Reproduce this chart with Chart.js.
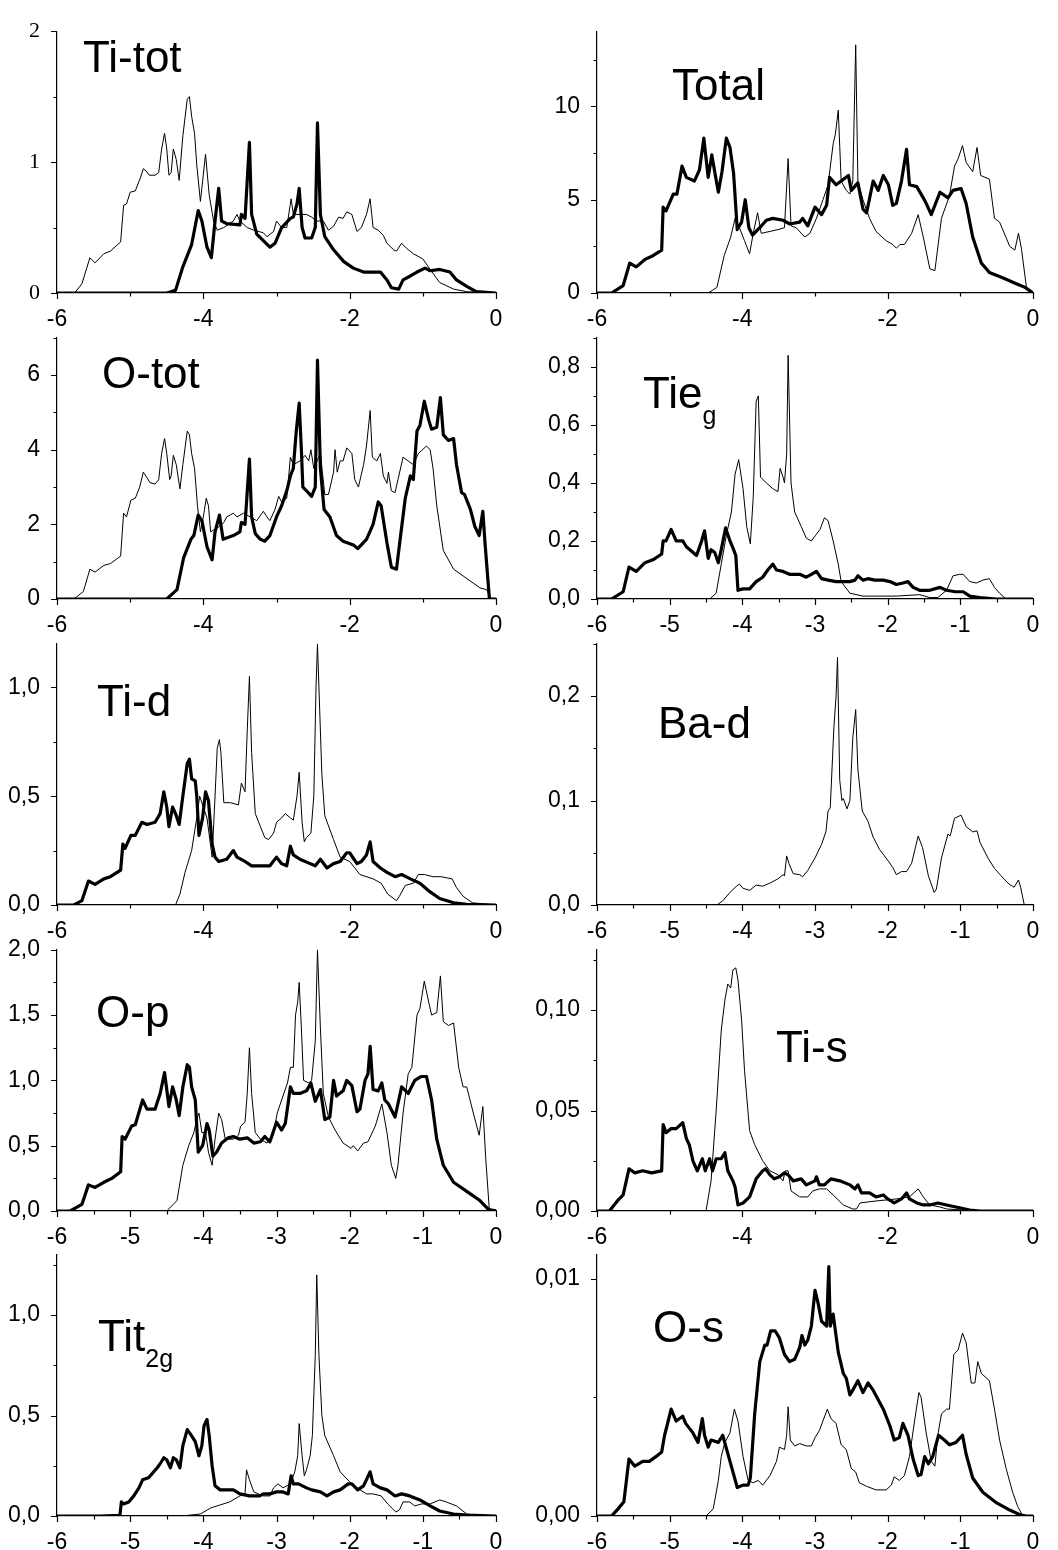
<!DOCTYPE html>
<html>
<head>
<meta charset="utf-8">
<script src="https://cdn.jsdelivr.net/npm/chart.js@4.4.1/dist/chart.umd.min.js"></script>
<style>
  html, body { margin: 0; padding: 0; background: #fff; }
  #page { position: relative; width: 1058px; height: 1550px; overflow: hidden; }
  #page canvas { position: absolute; }
  .lbl { position: absolute; font-family: "Liberation Sans", Arial, sans-serif; font-size: 44px; line-height: 44px; color: #000; white-space: nowrap; }
  .lbl sub { font-size: 25px; line-height: 0; vertical-align: baseline; position: relative; top: 16px; }
</style>
</head>
<body>
<div id="page"></div>
<script>
// energy (eV) vs DOS; thin = one calculation, thick = the other
const tiTotThin = [[-6,0],[-5.76,0],[-5.66,0.07],[-5.55,0.27],[-5.48,0.23],[-5.36,0.3],[-5.27,0.32],[-5.13,0.39],[-5.09,0.67],[-5.05,0.68],[-5.0,0.77],[-4.93,0.78],[-4.86,0.88],[-4.82,0.95],[-4.78,0.93],[-4.74,0.9],[-4.66,0.9],[-4.61,0.92],[-4.57,1.1],[-4.53,1.22],[-4.5,1.1],[-4.47,0.9],[-4.44,0.92],[-4.41,1.1],[-4.37,1.02],[-4.33,0.86],[-4.28,1.2],[-4.22,1.48],[-4.19,1.5],[-4.16,1.35],[-4.12,1.22],[-4.09,0.98],[-4.04,0.7],[-3.97,1.06],[-3.92,0.75],[-3.86,0.55],[-3.81,0.48],[-3.72,0.5],[-3.59,0.55],[-3.54,0.6],[-3.5,0.55],[-3.4,0.5],[-3.31,0.48],[-3.18,0.46],[-3.13,0.43],[-3.04,0.47],[-3.0,0.55],[-2.93,0.5],[-2.86,0.5],[-2.8,0.72],[-2.77,0.6],[-2.68,0.6],[-2.59,0.6],[-2.52,0.58],[-2.45,0.55],[-2.36,0.55],[-2.29,0.48],[-2.22,0.51],[-2.15,0.58],[-2.09,0.57],[-2.04,0.62],[-1.97,0.6],[-1.9,0.47],[-1.84,0.5],[-1.77,0.6],[-1.72,0.72],[-1.68,0.5],[-1.61,0.48],[-1.54,0.44],[-1.49,0.38],[-1.4,0.33],[-1.36,0.32],[-1.29,0.38],[-1.22,0.34],[-1.13,0.3],[-1.0,0.26],[-0.9,0.18],[-0.77,0.08],[-0.58,0.03],[-0.4,0.01],[0,0]];
const tiTotThick = [[-6,0],[-4.5,0],[-4.38,0.02],[-4.28,0.2],[-4.16,0.37],[-4.07,0.63],[-4.02,0.55],[-3.95,0.35],[-3.89,0.27],[-3.84,0.55],[-3.79,0.8],[-3.75,0.55],[-3.68,0.53],[-3.5,0.52],[-3.48,0.6],[-3.43,0.57],[-3.37,1.15],[-3.34,0.6],[-3.27,0.45],[-3.18,0.4],[-3.09,0.35],[-3.02,0.38],[-2.93,0.5],[-2.81,0.57],[-2.77,0.58],[-2.72,0.68],[-2.69,0.8],[-2.65,0.5],[-2.61,0.42],[-2.52,0.42],[-2.47,0.5],[-2.44,1.3],[-2.4,0.6],[-2.34,0.43],[-2.22,0.33],[-2.08,0.24],[-1.95,0.19],[-1.81,0.16],[-1.58,0.16],[-1.49,0.1],[-1.43,0.04],[-1.33,0.03],[-1.27,0.1],[-1.17,0.13],[-1.08,0.16],[-0.97,0.19],[-0.9,0.17],[-0.77,0.18],[-0.63,0.16],[-0.54,0.1],[-0.4,0.05],[-0.27,0.01],[0,0]];

const totalThin = [[-6,0],[-4.47,0],[-4.35,0.3],[-4.25,2.0],[-4.16,3.0],[-4.1,4.0],[-4.04,3.5],[-3.97,2.8],[-3.9,2.1],[-3.85,3.2],[-3.79,4.3],[-3.74,3.2],[-3.62,3.3],[-3.51,3.4],[-3.42,3.5],[-3.37,7.2],[-3.33,3.6],[-3.26,3.5],[-3.14,3.0],[-3.07,3.2],[-2.98,4.0],[-2.89,5.0],[-2.82,5.8],[-2.75,8.0],[-2.72,8.5],[-2.68,9.8],[-2.64,6.0],[-2.57,5.5],[-2.52,5.3],[-2.48,6.0],[-2.44,13.3],[-2.41,6.0],[-2.34,5.0],[-2.25,4.0],[-2.16,3.3],[-2.02,2.8],[-1.93,2.6],[-1.88,2.4],[-1.83,2.6],[-1.77,2.6],[-1.67,3.2],[-1.58,4.2],[-1.51,3.0],[-1.42,1.3],[-1.35,1.2],[-1.26,4.0],[-1.15,5.2],[-1.08,6.8],[-1.03,7.2],[-0.97,7.9],[-0.92,7.0],[-0.83,6.5],[-0.77,7.8],[-0.72,6.3],[-0.6,6.1],[-0.53,4.0],[-0.46,3.8],[-0.32,2.5],[-0.25,2.3],[-0.2,3.2],[-0.16,2.4],[-0.09,0.3],[0,0]];
const totalThick = [[-6,0],[-5.8,0],[-5.64,0.4],[-5.55,1.6],[-5.46,1.4],[-5.34,1.8],[-5.23,2.0],[-5.11,2.3],[-5.09,4.6],[-5.05,4.4],[-4.95,5.3],[-4.9,5.3],[-4.83,6.8],[-4.77,6.2],[-4.66,6.0],[-4.59,6.6],[-4.53,8.3],[-4.47,6.2],[-4.42,7.4],[-4.38,6.5],[-4.33,5.4],[-4.28,6.5],[-4.22,8.3],[-4.17,7.8],[-4.12,6.4],[-4.07,3.4],[-4.01,3.8],[-3.96,5.0],[-3.91,3.5],[-3.86,3.1],[-3.76,3.5],[-3.67,3.9],[-3.58,4.0],[-3.44,3.9],[-3.35,3.7],[-3.21,3.8],[-3.17,4.0],[-3.1,3.6],[-3.0,4.6],[-2.91,4.2],[-2.84,4.7],[-2.8,6.2],[-2.71,5.8],[-2.64,6.0],[-2.54,6.3],[-2.5,5.5],[-2.41,5.9],[-2.34,4.5],[-2.29,4.3],[-2.2,6.0],[-2.13,5.5],[-2.06,6.3],[-1.99,5.8],[-1.93,4.7],[-1.88,4.8],[-1.81,6.0],[-1.74,7.7],[-1.7,5.8],[-1.6,5.7],[-1.51,5.1],[-1.47,4.8],[-1.4,4.2],[-1.28,5.4],[-1.17,5.1],[-1.1,5.5],[-0.99,5.6],[-0.92,4.8],[-0.83,3.0],[-0.71,1.6],[-0.6,1.1],[-0.41,0.8],[-0.23,0.5],[-0.11,0.3],[0,0]];

const oTotThin = [[-6,0],[-5.77,0],[-5.64,0.2],[-5.55,0.8],[-5.48,0.72],[-5.36,0.9],[-5.27,0.95],[-5.13,1.15],[-5.09,2.3],[-5.05,2.2],[-4.99,2.65],[-4.93,2.7],[-4.87,3.0],[-4.82,3.4],[-4.77,3.25],[-4.73,3.12],[-4.66,3.08],[-4.61,3.2],[-4.57,3.9],[-4.53,4.3],[-4.5,3.9],[-4.46,3.2],[-4.44,3.3],[-4.41,3.85],[-4.37,3.6],[-4.32,2.95],[-4.28,3.6],[-4.22,4.5],[-4.19,4.4],[-4.16,3.9],[-4.12,3.5],[-4.08,2.5],[-4.04,1.8],[-4.0,2.2],[-3.96,2.7],[-3.93,2.5],[-3.9,1.8],[-3.86,1.85],[-3.81,1.9],[-3.72,2.05],[-3.68,2.2],[-3.59,2.3],[-3.54,2.2],[-3.45,2.3],[-3.36,2.2],[-3.27,2.1],[-3.18,2.35],[-3.13,2.2],[-3.09,2.1],[-3.02,2.4],[-2.97,2.75],[-2.93,2.6],[-2.86,2.7],[-2.81,3.8],[-2.77,3.6],[-2.68,3.7],[-2.61,3.85],[-2.56,3.7],[-2.53,4.0],[-2.49,3.5],[-2.4,3.9],[-2.34,2.8],[-2.29,2.8],[-2.22,3.4],[-2.2,4.0],[-2.17,3.4],[-2.13,3.7],[-2.09,3.7],[-2.04,4.05],[-1.97,3.9],[-1.93,3.2],[-1.88,3.0],[-1.81,3.6],[-1.77,4.1],[-1.72,5.05],[-1.69,3.8],[-1.63,3.7],[-1.58,3.9],[-1.54,3.3],[-1.49,3.1],[-1.47,3.4],[-1.43,2.9],[-1.38,2.85],[-1.34,3.2],[-1.27,3.8],[-1.2,3.7],[-1.13,3.6],[-1.06,3.9],[-0.95,4.1],[-0.9,4.0],[-0.86,3.5],[-0.81,2.5],[-0.72,1.3],[-0.58,0.8],[-0.4,0.55],[-0.22,0.3],[-0.13,0.25],[-0.06,0],[0,0]];
const oTotThick = [[-6,0],[-4.5,0],[-4.36,0.25],[-4.27,1.1],[-4.17,1.6],[-4.13,1.7],[-4.07,2.25],[-4.02,2.1],[-3.95,1.4],[-3.88,1.05],[-3.84,1.8],[-3.78,2.25],[-3.73,1.6],[-3.59,1.7],[-3.5,1.8],[-3.48,2.05],[-3.43,2.0],[-3.37,3.75],[-3.34,2.2],[-3.29,1.75],[-3.22,1.6],[-3.16,1.55],[-3.09,1.7],[-3.0,2.2],[-2.93,2.5],[-2.86,2.9],[-2.81,3.3],[-2.77,3.5],[-2.73,4.5],[-2.69,5.25],[-2.66,4.0],[-2.64,3.0],[-2.59,2.9],[-2.52,2.75],[-2.47,3.0],[-2.44,6.4],[-2.4,3.5],[-2.35,2.4],[-2.27,2.2],[-2.18,1.7],[-2.09,1.55],[-1.95,1.45],[-1.89,1.35],[-1.77,1.6],[-1.68,2.0],[-1.61,2.6],[-1.57,2.5],[-1.49,1.5],[-1.43,0.85],[-1.36,0.8],[-1.31,1.6],[-1.24,2.7],[-1.17,3.3],[-1.13,3.2],[-1.08,4.5],[-1.04,4.65],[-0.98,5.3],[-0.92,4.8],[-0.88,4.55],[-0.81,4.6],[-0.76,5.4],[-0.72,4.4],[-0.65,4.25],[-0.58,4.3],[-0.54,3.6],[-0.47,2.85],[-0.43,2.8],[-0.35,2.4],[-0.29,1.95],[-0.23,1.7],[-0.18,2.35],[-0.15,1.5],[-0.09,0],[0,0]];

const tiEgThin = [[-6,0],[-4.45,0],[-4.36,0.02],[-4.29,0.12],[-4.22,0.22],[-4.15,0.3],[-4.1,0.43],[-4.05,0.48],[-3.99,0.38],[-3.94,0.25],[-3.89,0.19],[-3.85,0.35],[-3.81,0.68],[-3.78,0.7],[-3.75,0.42],[-3.67,0.4],[-3.58,0.38],[-3.51,0.37],[-3.48,0.45],[-3.44,0.42],[-3.42,0.4],[-3.39,0.5],[-3.37,0.84],[-3.33,0.4],[-3.28,0.3],[-3.19,0.25],[-3.12,0.21],[-3.05,0.2],[-2.99,0.22],[-2.93,0.24],[-2.87,0.28],[-2.82,0.27],[-2.75,0.2],[-2.68,0.12],[-2.64,0.06],[-2.52,0.02],[-2.34,0.01],[-1.88,0.01],[-1.56,0.015],[-1.42,0.005],[-1.31,0.005],[-1.19,0.03],[-1.1,0.08],[-1.01,0.085],[-0.96,0.085],[-0.87,0.06],[-0.78,0.055],[-0.69,0.065],[-0.6,0.07],[-0.53,0.04],[-0.46,0.02],[-0.37,0],[0,0]];
const tiEgThick = [[-6,0],[-5.8,0],[-5.64,0.025],[-5.56,0.11],[-5.46,0.095],[-5.34,0.125],[-5.23,0.135],[-5.11,0.155],[-5.09,0.2],[-5.05,0.2],[-4.98,0.24],[-4.91,0.2],[-4.82,0.2],[-4.77,0.18],[-4.63,0.15],[-4.56,0.2],[-4.52,0.235],[-4.47,0.14],[-4.43,0.17],[-4.38,0.16],[-4.33,0.125],[-4.29,0.17],[-4.23,0.245],[-4.17,0.2],[-4.12,0.17],[-4.09,0.15],[-4.06,0.03],[-3.99,0.035],[-3.9,0.035],[-3.81,0.06],[-3.72,0.075],[-3.65,0.1],[-3.58,0.12],[-3.53,0.1],[-3.44,0.095],[-3.35,0.085],[-3.21,0.085],[-3.12,0.075],[-3.05,0.085],[-2.98,0.095],[-2.91,0.07],[-2.82,0.065],[-2.71,0.06],[-2.52,0.06],[-2.45,0.065],[-2.41,0.08],[-2.34,0.065],[-2.27,0.07],[-2.18,0.065],[-2.06,0.065],[-1.97,0.06],[-1.88,0.05],[-1.79,0.055],[-1.72,0.06],[-1.65,0.04],[-1.56,0.03],[-1.42,0.03],[-1.28,0.04],[-1.19,0.03],[-1.07,0.025],[-0.96,0.025],[-0.87,0.01],[-0.73,0.005],[-0.5,0],[0,0]];

const tiDThin = [[-6,0],[-4.38,0],[-4.32,0.05],[-4.25,0.15],[-4.16,0.25],[-4.09,0.4],[-4.05,0.5],[-4.0,0.45],[-3.95,0.4],[-3.88,0.22],[-3.84,0.5],[-3.81,0.72],[-3.78,0.76],[-3.76,0.7],[-3.72,0.47],[-3.63,0.47],[-3.52,0.46],[-3.48,0.56],[-3.43,0.52],[-3.4,0.8],[-3.37,1.05],[-3.34,0.7],[-3.29,0.42],[-3.22,0.36],[-3.16,0.31],[-3.11,0.3],[-3.04,0.33],[-3.0,0.38],[-2.93,0.4],[-2.88,0.42],[-2.81,0.4],[-2.77,0.39],[-2.72,0.5],[-2.69,0.61],[-2.65,0.38],[-2.62,0.29],[-2.59,0.31],[-2.53,0.33],[-2.49,0.5],[-2.46,1.0],[-2.44,1.2],[-2.41,0.9],[-2.38,0.6],[-2.34,0.41],[-2.22,0.3],[-2.13,0.22],[-2.0,0.2],[-1.86,0.14],[-1.68,0.12],[-1.57,0.1],[-1.48,0.05],[-1.36,0.02],[-1.32,0.04],[-1.24,0.09],[-1.13,0.1],[-1.06,0.14],[-0.98,0.14],[-0.86,0.13],[-0.75,0.13],[-0.6,0.12],[-0.54,0.08],[-0.45,0.04],[-0.32,0.01],[0,0]];
const tiDThick = [[-6,0],[-5.77,0],[-5.66,0.02],[-5.57,0.11],[-5.48,0.095],[-5.36,0.12],[-5.27,0.13],[-5.13,0.16],[-5.1,0.28],[-5.07,0.26],[-4.99,0.32],[-4.93,0.32],[-4.84,0.38],[-4.77,0.37],[-4.66,0.38],[-4.59,0.42],[-4.54,0.52],[-4.5,0.45],[-4.47,0.36],[-4.42,0.45],[-4.38,0.42],[-4.33,0.37],[-4.28,0.5],[-4.22,0.65],[-4.19,0.67],[-4.16,0.58],[-4.11,0.57],[-4.09,0.5],[-4.06,0.32],[-4.01,0.4],[-3.97,0.52],[-3.93,0.48],[-3.88,0.28],[-3.84,0.22],[-3.79,0.2],[-3.68,0.21],[-3.59,0.25],[-3.54,0.22],[-3.43,0.2],[-3.34,0.18],[-3.18,0.18],[-3.09,0.18],[-3.0,0.22],[-2.93,0.19],[-2.86,0.18],[-2.81,0.27],[-2.77,0.23],[-2.68,0.21],[-2.54,0.19],[-2.47,0.18],[-2.4,0.21],[-2.31,0.17],[-2.22,0.19],[-2.13,0.2],[-2.04,0.24],[-2.0,0.24],[-1.9,0.19],[-1.84,0.2],[-1.77,0.23],[-1.72,0.29],[-1.68,0.2],[-1.58,0.17],[-1.49,0.15],[-1.38,0.13],[-1.29,0.14],[-1.17,0.12],[-1.04,0.1],[-0.9,0.06],[-0.77,0.03],[-0.58,0.01],[-0.4,0.003],[0,0]];

const baDThin = [[-6,0],[-4.35,0],[-4.27,0.004],[-4.17,0.012],[-4.08,0.018],[-4.04,0.02],[-3.99,0.016],[-3.9,0.014],[-3.81,0.019],[-3.72,0.018],[-3.62,0.021],[-3.51,0.025],[-3.44,0.029],[-3.42,0.028],[-3.39,0.047],[-3.36,0.04],[-3.3,0.03],[-3.21,0.029],[-3.17,0.027],[-3.1,0.033],[-3.0,0.045],[-2.91,0.058],[-2.85,0.07],[-2.82,0.09],[-2.79,0.093],[-2.74,0.17],[-2.71,0.2],[-2.69,0.237],[-2.66,0.12],[-2.63,0.1],[-2.61,0.102],[-2.56,0.092],[-2.52,0.1],[-2.48,0.16],[-2.44,0.187],[-2.41,0.13],[-2.35,0.09],[-2.27,0.08],[-2.2,0.065],[-2.11,0.053],[-1.99,0.042],[-1.93,0.036],[-1.88,0.029],[-1.81,0.032],[-1.74,0.032],[-1.67,0.04],[-1.58,0.066],[-1.52,0.055],[-1.44,0.028],[-1.36,0.012],[-1.33,0.015],[-1.26,0.045],[-1.17,0.068],[-1.14,0.066],[-1.08,0.083],[-0.99,0.086],[-0.92,0.075],[-0.83,0.07],[-0.77,0.071],[-0.73,0.06],[-0.62,0.045],[-0.53,0.035],[-0.44,0.028],[-0.33,0.02],[-0.26,0.017],[-0.2,0.024],[-0.17,0.017],[-0.12,0],[0,0]];

const oPThin = [[-6,0],[-4.5,0],[-4.36,0.08],[-4.28,0.35],[-4.2,0.5],[-4.13,0.6],[-4.09,0.7],[-4.06,0.75],[-4.02,0.6],[-3.97,0.6],[-3.93,0.45],[-3.88,0.35],[-3.84,0.55],[-3.79,0.75],[-3.75,0.7],[-3.7,0.55],[-3.59,0.55],[-3.52,0.58],[-3.49,0.65],[-3.43,0.68],[-3.4,0.9],[-3.37,1.25],[-3.34,0.9],[-3.29,0.6],[-3.22,0.55],[-3.13,0.52],[-3.04,0.6],[-2.99,0.75],[-2.93,0.85],[-2.85,0.98],[-2.81,1.1],[-2.77,1.1],[-2.74,1.5],[-2.71,1.6],[-2.69,1.75],[-2.66,1.4],[-2.63,1.0],[-2.56,0.98],[-2.52,1.0],[-2.47,1.3],[-2.44,2.0],[-2.4,1.4],[-2.36,0.9],[-2.29,0.72],[-2.2,0.62],[-2.09,0.52],[-1.98,0.48],[-1.95,0.5],[-1.89,0.46],[-1.81,0.52],[-1.75,0.53],[-1.65,0.65],[-1.56,0.82],[-1.49,0.6],[-1.43,0.35],[-1.37,0.25],[-1.34,0.35],[-1.27,0.75],[-1.2,1.05],[-1.15,1.1],[-1.08,1.5],[-1.04,1.55],[-0.98,1.76],[-0.92,1.6],[-0.88,1.5],[-0.81,1.52],[-0.76,1.8],[-0.72,1.45],[-0.65,1.42],[-0.58,1.44],[-0.51,1.1],[-0.45,0.95],[-0.4,0.95],[-0.31,0.75],[-0.23,0.58],[-0.18,0.8],[-0.14,0.4],[-0.09,0],[0,0]];
const oPThick = [[-6,0],[-5.82,0],[-5.66,0.05],[-5.57,0.2],[-5.48,0.18],[-5.36,0.22],[-5.25,0.25],[-5.13,0.3],[-5.11,0.57],[-5.07,0.55],[-4.98,0.65],[-4.93,0.66],[-4.83,0.85],[-4.77,0.78],[-4.66,0.78],[-4.59,0.9],[-4.53,1.06],[-4.47,0.8],[-4.42,0.95],[-4.37,0.85],[-4.33,0.73],[-4.28,0.95],[-4.22,1.12],[-4.19,1.1],[-4.16,0.95],[-4.11,0.85],[-4.07,0.45],[-4.01,0.5],[-3.95,0.67],[-3.92,0.62],[-3.87,0.42],[-3.82,0.45],[-3.75,0.52],[-3.66,0.56],[-3.59,0.57],[-3.5,0.55],[-3.4,0.56],[-3.31,0.52],[-3.22,0.53],[-3.16,0.57],[-3.09,0.53],[-3.0,0.68],[-2.93,0.62],[-2.88,0.67],[-2.81,0.95],[-2.77,0.9],[-2.68,0.9],[-2.59,0.92],[-2.53,0.98],[-2.47,0.84],[-2.4,0.93],[-2.34,0.7],[-2.27,0.72],[-2.22,1.0],[-2.18,0.88],[-2.09,0.92],[-2.04,1.0],[-1.97,0.96],[-1.9,0.76],[-1.86,0.78],[-1.79,1.0],[-1.75,1.05],[-1.72,1.26],[-1.68,0.93],[-1.61,0.92],[-1.56,0.98],[-1.52,0.85],[-1.47,0.82],[-1.38,0.72],[-1.29,0.95],[-1.2,0.9],[-1.11,1.0],[-1.02,1.03],[-0.95,1.03],[-0.88,0.85],[-0.81,0.55],[-0.72,0.35],[-0.58,0.22],[-0.4,0.15],[-0.22,0.08],[-0.1,0.01],[0,0]];

const tiSThin = [[-6,0],[-4.5,0],[-4.43,0.015],[-4.36,0.05],[-4.29,0.09],[-4.24,0.105],[-4.2,0.113],[-4.16,0.111],[-4.13,0.12],[-4.09,0.121],[-4.06,0.115],[-4.01,0.095],[-3.97,0.07],[-3.9,0.04],[-3.83,0.033],[-3.72,0.025],[-3.62,0.02],[-3.51,0.018],[-3.44,0.015],[-3.41,0.02],[-3.37,0.02],[-3.33,0.01],[-3.21,0.007],[-3.1,0.007],[-3.03,0.01],[-2.94,0.011],[-2.84,0.011],[-2.75,0.008],[-2.61,0.003],[-2.48,0.001],[-2.43,0.001],[-2.38,0.004],[-2.16,0.005],[-1.88,0.006],[-1.7,0.007],[-1.58,0.011],[-1.51,0.007],[-1.42,0.003],[-1.28,0.002],[-1.19,0.001],[-0.96,0.0005],[-0.73,0],[0,0]];
const tiSThick = [[-6,0],[-5.83,0],[-5.72,0.005],[-5.64,0.008],[-5.56,0.021],[-5.48,0.019],[-5.37,0.02],[-5.25,0.019],[-5.11,0.02],[-5.09,0.043],[-5.05,0.039],[-4.98,0.041],[-4.91,0.041],[-4.82,0.044],[-4.77,0.036],[-4.73,0.033],[-4.68,0.025],[-4.62,0.02],[-4.55,0.026],[-4.51,0.02],[-4.45,0.026],[-4.41,0.02],[-4.36,0.026],[-4.29,0.026],[-4.24,0.029],[-4.2,0.02],[-4.13,0.015],[-4.1,0.012],[-4.06,0.003],[-3.99,0.004],[-3.9,0.007],[-3.81,0.016],[-3.72,0.02],[-3.68,0.021],[-3.62,0.018],[-3.56,0.016],[-3.49,0.017],[-3.42,0.019],[-3.37,0.018],[-3.3,0.015],[-3.19,0.016],[-3.12,0.013],[-3.0,0.015],[-2.98,0.017],[-2.94,0.013],[-2.87,0.013],[-2.78,0.016],[-2.66,0.015],[-2.52,0.013],[-2.45,0.011],[-2.41,0.013],[-2.36,0.009],[-2.25,0.009],[-2.16,0.007],[-2.06,0.008],[-2.0,0.006],[-1.91,0.004],[-1.81,0.006],[-1.74,0.009],[-1.7,0.006],[-1.6,0.004],[-1.51,0.003],[-1.42,0.003],[-1.31,0.004],[-1.19,0.003],[-1.06,0.002],[-0.87,0.0005],[-0.73,0],[0,0]];

const tiT2gThin = [[-6,0],[-4.36,0],[-4.22,0.003],[-4.04,0.01],[-3.9,0.04],[-3.77,0.055],[-3.64,0.07],[-3.5,0.1],[-3.43,0.11],[-3.41,0.23],[-3.37,0.18],[-3.31,0.12],[-3.25,0.11],[-3.18,0.1],[-3.09,0.1],[-3.04,0.14],[-2.98,0.16],[-2.91,0.14],[-2.81,0.16],[-2.75,0.22],[-2.71,0.3],[-2.69,0.46],[-2.65,0.3],[-2.62,0.2],[-2.59,0.23],[-2.54,0.3],[-2.51,0.4],[-2.47,0.8],[-2.45,1.2],[-2.42,0.8],[-2.38,0.5],[-2.34,0.4],[-2.22,0.3],[-2.13,0.22],[-2.0,0.17],[-1.9,0.14],[-1.77,0.11],[-1.68,0.11],[-1.57,0.1],[-1.48,0.06],[-1.37,0.02],[-1.32,0.03],[-1.27,0.07],[-1.18,0.07],[-1.11,0.05],[-1.02,0.06],[-0.9,0.06],[-0.77,0.08],[-0.68,0.07],[-0.54,0.05],[-0.4,0.01],[-0.27,0.005],[0,0]];
const tiT2gThick = [[-6,0],[-5.41,0],[-5.14,0.003],[-5.12,0.07],[-5.09,0.06],[-5.02,0.07],[-4.95,0.1],[-4.88,0.14],[-4.83,0.18],[-4.75,0.19],[-4.63,0.24],[-4.59,0.26],[-4.54,0.29],[-4.5,0.28],[-4.45,0.24],[-4.41,0.29],[-4.37,0.28],[-4.32,0.24],[-4.28,0.35],[-4.22,0.43],[-4.18,0.41],[-4.11,0.37],[-4.06,0.3],[-4.02,0.35],[-3.99,0.45],[-3.95,0.48],[-3.92,0.4],[-3.88,0.25],[-3.84,0.15],[-3.77,0.13],[-3.68,0.13],[-3.59,0.13],[-3.5,0.11],[-3.37,0.1],[-3.23,0.1],[-3.18,0.11],[-3.09,0.11],[-3.0,0.12],[-2.91,0.12],[-2.84,0.11],[-2.8,0.2],[-2.77,0.16],[-2.7,0.16],[-2.59,0.14],[-2.52,0.13],[-2.4,0.12],[-2.31,0.1],[-2.22,0.12],[-2.13,0.13],[-2.02,0.16],[-1.97,0.16],[-1.89,0.13],[-1.81,0.15],[-1.72,0.22],[-1.68,0.16],[-1.58,0.14],[-1.49,0.13],[-1.38,0.1],[-1.29,0.11],[-1.18,0.1],[-1.04,0.08],[-0.9,0.05],[-0.77,0.025],[-0.58,0.01],[-0.4,0.004],[0,0]];

const oSThin = [[-6,0],[-4.5,0],[-4.4,0.0003],[-4.33,0.0015],[-4.29,0.0025],[-4.24,0.0031],[-4.17,0.0035],[-4.11,0.0045],[-4.06,0.004],[-3.99,0.0025],[-3.92,0.0015],[-3.85,0.0014],[-3.78,0.0015],[-3.72,0.0013],[-3.62,0.0017],[-3.53,0.0023],[-3.49,0.0029],[-3.42,0.0028],[-3.39,0.0034],[-3.37,0.0046],[-3.34,0.0032],[-3.28,0.00295],[-3.21,0.00305],[-3.12,0.00295],[-3.05,0.00295],[-3.0,0.0033],[-2.94,0.0036],[-2.83,0.0045],[-2.78,0.0041],[-2.71,0.0039],[-2.64,0.003],[-2.57,0.0028],[-2.5,0.002],[-2.44,0.00185],[-2.39,0.0014],[-2.29,0.00125],[-2.16,0.0011],[-2.02,0.0011],[-1.95,0.0013],[-1.91,0.00165],[-1.84,0.0015],[-1.77,0.0017],[-1.7,0.0025],[-1.63,0.004],[-1.57,0.0052],[-1.54,0.005],[-1.47,0.0035],[-1.4,0.0023],[-1.35,0.0021],[-1.31,0.0034],[-1.26,0.0043],[-1.19,0.0045],[-1.15,0.0045],[-1.09,0.0068],[-1.03,0.007],[-0.97,0.0077],[-0.92,0.0073],[-0.85,0.0056],[-0.8,0.0056],[-0.76,0.0065],[-0.71,0.006],[-0.6,0.0057],[-0.53,0.0045],[-0.46,0.0032],[-0.37,0.002],[-0.28,0.001],[-0.21,0.0004],[-0.14,0],[0,0]];
const oSThick = [[-6,0],[-5.8,0],[-5.71,0.0003],[-5.63,0.0006],[-5.56,0.0024],[-5.48,0.0021],[-5.37,0.0023],[-5.28,0.0023],[-5.19,0.0025],[-5.11,0.0027],[-5.07,0.0034],[-5.02,0.004],[-4.98,0.0045],[-4.91,0.004],[-4.82,0.0042],[-4.78,0.0039],[-4.68,0.0035],[-4.61,0.0031],[-4.55,0.0041],[-4.52,0.0034],[-4.47,0.0029],[-4.43,0.0032],[-4.33,0.0031],[-4.27,0.0034],[-4.17,0.0023],[-4.07,0.0012],[-3.99,0.0013],[-3.92,0.0013],[-3.89,0.0016],[-3.83,0.0043],[-3.76,0.0065],[-3.69,0.0072],[-3.66,0.0072],[-3.61,0.0078],[-3.55,0.0078],[-3.49,0.0075],[-3.42,0.0068],[-3.35,0.0065],[-3.28,0.0066],[-3.21,0.0071],[-3.18,0.0076],[-3.14,0.0072],[-3.1,0.0074],[-3.05,0.008],[-3.0,0.0095],[-2.96,0.009],[-2.91,0.0082],[-2.84,0.008],[-2.81,0.0105],[-2.79,0.008],[-2.75,0.0085],[-2.68,0.0069],[-2.61,0.006],[-2.57,0.0058],[-2.52,0.0051],[-2.48,0.0053],[-2.41,0.0057],[-2.34,0.0052],[-2.27,0.0056],[-2.2,0.0053],[-2.13,0.0049],[-2.06,0.0045],[-1.97,0.0038],[-1.91,0.0032],[-1.84,0.0033],[-1.79,0.0039],[-1.72,0.0034],[-1.65,0.0024],[-1.58,0.0017],[-1.54,0.00175],[-1.49,0.0025],[-1.44,0.0022],[-1.38,0.0025],[-1.3,0.0034],[-1.22,0.0032],[-1.15,0.003],[-1.06,0.0031],[-0.97,0.0034],[-0.92,0.0026],[-0.83,0.0016],[-0.69,0.001],[-0.5,0.00055],[-0.32,0.00025],[-0.18,0.00005],[-0.09,0],[0,0]];

// y-axis ticks per panel
const tiTotYTicks = [0, 1, 2];
const totalYTicks = [0, 5, 10];
const oTotYTicks = [0, 2, 4, 6];
const tiEgYTicks = [0, 0.2, 0.4, 0.6, 0.8];
const tiDYTicks = [0, 0.5, 1.0];
const baDYTicks = [0, 0.1, 0.2];
const oPYTicks = [0, 0.5, 1.0, 1.5, 2.0];
const tiSYTicks = [0, 0.05, 0.10];
const tiT2gYTicks = [0, 0.5, 1.0];
const oSYTicks = [0, 0.01];

// x-axis labels
const xTicksWide = [-6, -4, -2, 0];
const xTicksFine = [-6, -5, -4, -3, -2, -1, 0];

const colX = [57, 597];
const colR = [496, 1033];
const colYW = [57, 80];
const rowBottom = [293, 599, 905, 1211, 1516];
const plotH = 272;

const panels = [
  { thin: tiTotThin, thick: tiTotThick, ymax: 2, yTicks: tiTotYTicks, yMinor: 0.5, dec: 0, xTicks: xTicksWide, col: 0, row: 0, serif: true, title: 'Ti-tot', tx: 83, tb: 72 },
  { thin: totalThin, thick: totalThick, ymax: 14, yTicks: totalYTicks, yMinor: 2.5, dec: 0, xTicks: xTicksWide, col: 1, row: 0, title: 'Total', tx: 672, tb: 100 },
  { thin: oTotThin, thick: oTotThick, ymax: 7, yTicks: oTotYTicks, yMinor: 1, dec: 0, xTicks: xTicksWide, col: 0, row: 1, title: 'O-tot', tx: 102, tb: 388 },
  { thin: tiEgThin, thick: tiEgThick, ymax: 0.9, yTicks: tiEgYTicks, yMinor: 0.1, dec: 1, xTicks: xTicksFine, col: 1, row: 1, title: 'Tie<sub>g</sub>', tx: 643, tb: 408 },
  { thin: tiDThin, thick: tiDThick, ymax: 1.2, yTicks: tiDYTicks, yMinor: 0.25, dec: 1, xTicks: xTicksWide, col: 0, row: 2, title: 'Ti-d', tx: 97, tb: 716 },
  { thin: baDThin, thick: null, ymax: 0.25, yTicks: baDYTicks, yMinor: 0.05, dec: 1, xTicks: xTicksFine, col: 1, row: 2, title: 'Ba-d', tx: 658, tb: 738 },
  { thin: oPThin, thick: oPThick, ymax: 2.0, yTicks: oPYTicks, yMinor: 0.25, dec: 1, xTicks: xTicksFine, col: 0, row: 3, title: 'O-p', tx: 96, tb: 1027 },
  { thin: tiSThin, thick: tiSThick, ymax: 0.13, yTicks: tiSYTicks, yMinor: 0.025, dec: 2, xTicks: xTicksWide, col: 1, row: 3, title: 'Ti-s', tx: 776, tb: 1062 },
  { thin: tiT2gThin, thick: tiT2gThick, ymax: 1.3, yTicks: tiT2gYTicks, yMinor: 0.25, dec: 1, xTicks: xTicksFine, col: 0, row: 4, title: 'Tit<sub>2g</sub>', tx: 98, tb: 1351 },
  { thin: oSThin, thick: oSThick, ymax: 0.011, yTicks: oSYTicks, yMinor: 0.005, dec: 2, xTicks: xTicksFine, col: 1, row: 4, title: 'O-s', tx: 653, tb: 1342 }
];

// outward major/minor tick marks, placed through the scales
const outTicks = {
  id: 'outTicks',
  afterDraw(chart, args, o) {
    const { ctx, chartArea: a, scales: { x, y } } = chart;
    ctx.save();
    ctx.strokeStyle = '#000';
    ctx.lineWidth = 1.2;
    ctx.beginPath();
    o.xMajor.forEach(v => { const p = Math.round(x.getPixelForValue(v)) + 0.5; ctx.moveTo(p, a.bottom); ctx.lineTo(p, a.bottom + 6); });
    o.xMinor.forEach(v => { const p = Math.round(x.getPixelForValue(v)) + 0.5; ctx.moveTo(p, a.bottom); ctx.lineTo(p, a.bottom + 3.5); });
    o.yMajor.forEach(v => { const p = Math.round(y.getPixelForValue(v)) + 0.5; ctx.moveTo(a.left, p); ctx.lineTo(a.left - 6, p); });
    o.yMinor.forEach(v => { const p = Math.round(y.getPixelForValue(v)) + 0.5; ctx.moveTo(a.left, p); ctx.lineTo(a.left - 3.5, p); });
    ctx.stroke();
    ctx.restore();
  }
};

const page = document.getElementById('page');
const sans = '"Liberation Sans", Arial, sans-serif';

panels.forEach(p => {
  const yW = colYW[p.col];
  const left = colX[p.col] - yW;
  const top = rowBottom[p.row] - plotH - 12;
  const right = colR[p.col] + 24;
  const w = right - left;
  const h = plotH + 12 + 36;
  const cv = document.createElement('canvas');
  cv.width = w; cv.height = h;
  cv.style.left = left + 'px'; cv.style.top = top + 'px';
  page.appendChild(cv);

  const xStep = p.xTicks[1] - p.xTicks[0];
  const xMinor = p.xTicks.slice(0, -1).map(v => v + xStep / 2);
  const yMinor = [];
  for (let v = p.yMinor; v <= p.ymax + 1e-9; v += p.yMinor) {
    if (!p.yTicks.some(t => Math.abs(t - v) < 1e-9)) yMinor.push(v);
  }

  const datasets = [];
  if (p.thick) datasets.push({ data: p.thick.map(d => ({ x: d[0], y: d[1] })), borderColor: '#000', borderWidth: 3.2, pointRadius: 0, tension: 0, borderJoinStyle: 'round' });
  datasets.push({ data: p.thin.map(d => ({ x: d[0], y: d[1] })), borderColor: '#000', borderWidth: 1, pointRadius: 0, tension: 0 });

  new Chart(cv.getContext('2d'), {
    type: 'line',
    data: { datasets },
    options: {
      responsive: false,
      animation: false,
      events: [],
      layout: { padding: { top: 12, right: 24, left: 0, bottom: 0 } },
      plugins: {
        legend: { display: false },
        tooltip: { enabled: false },
        outTicks: { xMajor: p.xTicks, xMinor: xMinor, yMajor: p.yTicks, yMinor: yMinor }
      },
      scales: {
        x: {
          type: 'linear', min: -6, max: 0,
          grid: { display: false },
          border: { display: true, color: '#000', width: 1.2 },
          afterBuildTicks: s => { s.ticks = p.xTicks.map(v => ({ value: v })); },
          afterFit: s => { s.height = 36; },
          ticks: { color: '#000', padding: 5, maxRotation: 0, font: { family: sans, size: 23 }, callback: v => String(v) }
        },
        y: {
          type: 'linear', min: 0, max: p.ymax,
          grid: { display: false },
          border: { display: true, color: '#000', width: 1.2 },
          afterBuildTicks: s => { s.ticks = p.yTicks.map(v => ({ value: v })); },
          afterFit: s => { s.width = yW; },
          ticks: {
            color: '#000', padding: 9,
            font: p.serif ? { family: '"Liberation Serif", "Times New Roman", serif', size: 22 } : { family: sans, size: 23 },
            callback: v => Number(v).toFixed(p.dec).replace('.', ',')
          }
        }
      }
    },
    plugins: [outTicks]
  });

  const lbl = document.createElement('div');
  lbl.className = 'lbl';
  lbl.innerHTML = p.title;
  lbl.style.left = p.tx + 'px';
  lbl.style.top = (p.tb - 37) + 'px';
  page.appendChild(lbl);
});
</script>
</body>
</html>
